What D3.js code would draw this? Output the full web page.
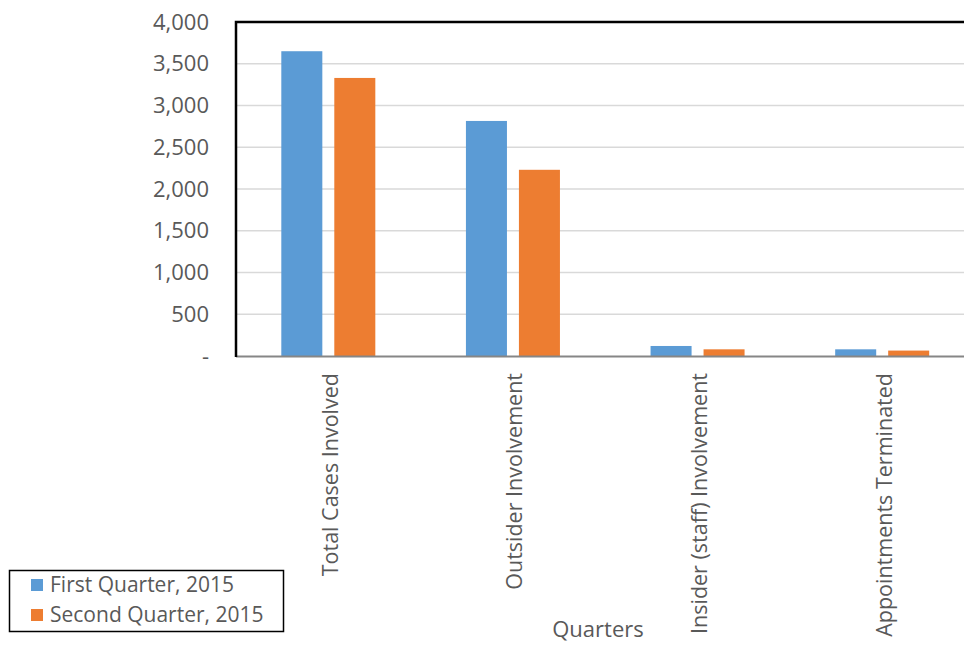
<!DOCTYPE html>
<html>
<head>
<meta charset="utf-8">
<script src="https://cdn.jsdelivr.net/npm/d3@7"></script>
<style>
  html, body { margin: 0; padding: 0; background: #fff; }
  svg { display: block; font-family: "Open Sans", sans-serif; }
</style>
</head>
<body>
<svg id="chart" width="964" height="645"></svg>
<script>
const categories = ["Total Cases Involved", "Outsider Involvement", "Insider (staff) Involvement", "Appointments Terminated"];
const seriesNames = ["First Quarter, 2015", "Second Quarter, 2015"];
const firstQuarter = [3650, 2815, 120, 80];
const secondQuarter = [3330, 2230, 80, 65];
const yTicks = [0, 500, 1000, 1500, 2000, 2500, 3000, 3500, 4000];
const colors = ["#5b9bd5", "#ed7d31"];
const xTitle = "Quarters";

const seriesValues = [firstQuarter, secondQuarter];
const svg = d3.select("#chart");
const plotLeft = 236, plotTop = 22, plotBottom = 356, plotRight = 974.5;

const x0 = d3.scaleBand().domain(categories).range([plotLeft, plotRight]).paddingInner(0).paddingOuter(0);
const x1 = d3.scaleBand().domain(seriesNames).range([0, x0.bandwidth()]).paddingInner(0.226).paddingOuter(0.855);
const y = d3.scaleLinear().domain([0, 4000]).range([plotBottom, plotTop]);

// gridlines
svg.append("g").selectAll("line").data(yTicks.filter(d => d > 0 && d < 4000)).join("line")
  .attr("x1", plotLeft).attr("x2", 964)
  .attr("y1", d => y(d)).attr("y2", d => y(d))
  .attr("stroke", "#d9d9d9").attr("stroke-width", 1.5);

// bars
const groups = svg.append("g").selectAll("g").data(categories).join("g")
  .attr("transform", d => `translate(${x0(d)},0)`);
groups.selectAll("rect").data((c, i) => seriesNames.map((s, j) => ({ s, j, v: seriesValues[j][i] }))).join("rect")
  .attr("x", d => x1(d.s))
  .attr("width", x1.bandwidth())
  .attr("y", d => y(d.v))
  .attr("height", d => y(0) - y(d.v))
  .attr("fill", d => colors[d.j]);

// y axis labels
const yAxis = d3.axisLeft(y).tickValues(yTicks).tickSize(0).tickPadding(0)
  .tickFormat(d => d === 0 ? "-" : d3.format(",")(d));
const ya = svg.append("g").attr("transform", `translate(209,0)`).call(yAxis);
ya.select(".domain").remove();
ya.selectAll("text").attr("font-size", 22).attr("fill", "#595959").attr("font-family", "Open Sans, sans-serif");

// x axis line
svg.append("line").attr("x1", plotLeft).attr("x2", 964).attr("y1", plotBottom + 0.5).attr("y2", plotBottom + 0.5)
  .attr("stroke", "#868686").attr("stroke-width", 2);

// plot border top and left
svg.append("path").attr("d", `M${plotLeft},${plotBottom + 1}V${plotTop}H964`)
  .attr("fill", "none").attr("stroke", "#000").attr("stroke-width", 2.5);

// x labels rotated
const xAxis = d3.axisBottom(x0).tickSize(0).tickPadding(0);
const xa = svg.append("g").attr("transform", `translate(0,${plotBottom})`).call(xAxis);
xa.select(".domain").remove();
xa.selectAll("text")
  .attr("font-size", 21.5).attr("fill", "#595959").attr("font-family", "Open Sans, sans-serif")
  .attr("text-anchor", "end")
  .attr("transform", "rotate(-90)")
  .attr("x", -17).attr("y", 2).attr("dy", "0.35em");

// x title
svg.append("text").attr("x", 598).attr("y", 637).attr("text-anchor", "middle")
  .attr("font-size", 22).attr("fill", "#595959").text(xTitle);

// legend
const lg = svg.append("g");
lg.append("rect").attr("x", 9.5).attr("y", 570.5).attr("width", 274).attr("height", 61)
  .attr("fill", "#fff").attr("stroke", "#000").attr("stroke-width", 1.5);
const items = lg.selectAll("g.item").data(seriesNames).join("g").attr("class", "item")
  .attr("transform", (d, i) => `translate(31,${579 + i * 30})`);
items.append("rect").attr("width", 12).attr("height", 12).attr("fill", (d, i) => colors[i]);
items.append("text").attr("x", 19).attr("y", 6).attr("dy", "0.35em")
  .attr("font-size", 21).attr("fill", "#595959").text(d => d);
</script>
</body>
</html>
